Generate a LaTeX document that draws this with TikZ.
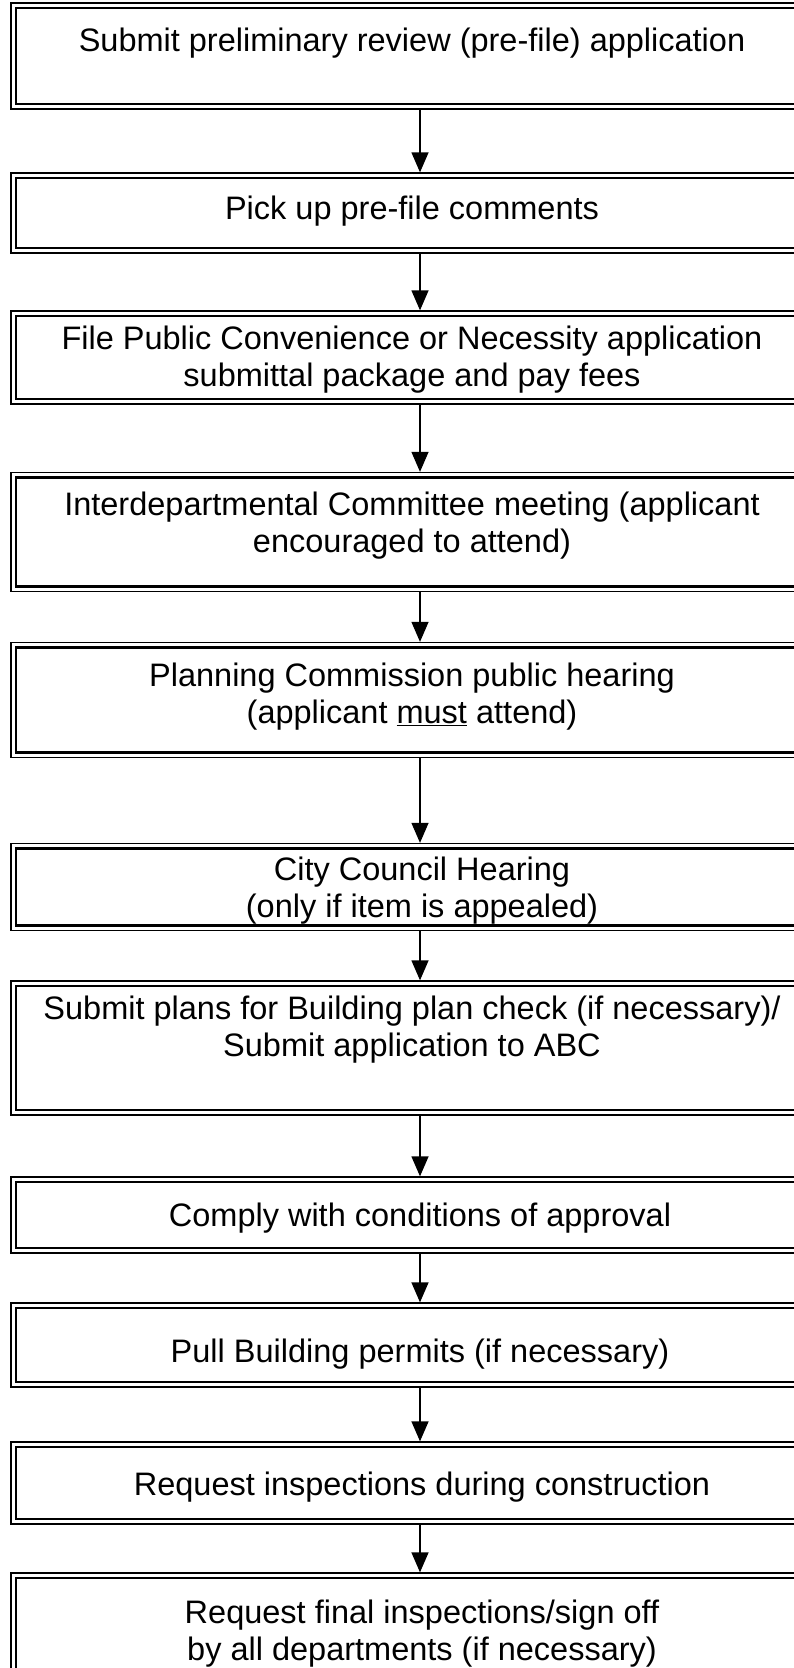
\documentclass[tikz,border=0pt]{standalone}
\usepackage{fontspec}
\setmainfont{Liberation Sans}
\usetikzlibrary{arrows.meta}

\newcommand{\boxfont}{\fontsize{32.5}{37}\selectfont}

\tikzset{
  frame/.style={draw, line width=1.3pt, minimum width=818pt, inner sep=0pt,
    path picture={\draw[line width=2.3pt]
      ([shift={(5pt,-5pt)}]path picture bounding box.north west) rectangle
      ([shift={(-5pt,5pt)}]path picture bounding box.south east);}},
  steptext/.style={align=center, font=\boxfont, inner sep=0pt},
  flow/.style={line width=1.3pt, -{Triangle[length=20pt,width=17pt]}}
}

\begin{document}
\begin{tikzpicture}[x=1pt, y=-1pt]

\useasboundingbox (0,0) rectangle (794,1668);

	% frames
\node[frame, minimum height=106] (s1) at (420,56) {};
\node[frame, minimum height=80] (s2) at (420,213) {};
\node[frame, minimum height=93] (s3) at (420,357.5) {};
\node[frame, minimum height=119] (s4) at (420,532) {};
\node[frame, minimum height=115] (s5) at (420,700) {};
\node[frame, minimum height=87] (s6) at (420,887) {};
\node[frame, minimum height=134] (s7) at (420,1048) {};
\node[frame, minimum height=76] (s8) at (420,1215) {};
\node[frame, minimum height=84] (s9) at (420,1345) {};
\node[frame, minimum height=82] (s10) at (420,1483) {};
\node[frame, minimum height=116] (s11) at (420,1631) {};

	% texts
\node[steptext] (t1) at (412,43) {Submit preliminary review (pre-file) application};
\node[steptext] (t2) at (412,211) {Pick up pre-file comments};
\node[steptext] (t3) at (412,360) {File Public Convenience or Necessity application\\ submittal package and pay fees};
\node[steptext] (t4) at (412,526) {Interdepartmental Committee meeting (applicant\\ encouraged to attend)};
\node[steptext] (t5) at (412,697) {Planning Commission public hearing\\ (applicant \underline{must} attend)};
\node[steptext] (t6) at (422,891) {City Council Hearing\\ (only if item is appealed)};
\node[steptext] (t7) at (412,1030) {Submit plans for Building plan check (if necessary)/\\ Submit application to ABC};
\node[steptext] (t8) at (420,1218) {Comply with conditions of approval};
\node[steptext] (t9) at (420,1354) {Pull Building permits (if necessary)};
\node[steptext] (t10) at (422,1487) {Request inspections during construction};
\node[steptext] (t11) at (422,1634) {Request final inspections/sign off\\ by all departments (if necessary)};

	% arrows
\foreach \a/\b in {s1/s2, s2/s3, s3/s4, s4/s5, s5/s6, s6/s7, s7/s8, s8/s9, s9/s10, s10/s11}
  \draw[flow] (\a) -- (\b);

\end{tikzpicture}
\end{document}
